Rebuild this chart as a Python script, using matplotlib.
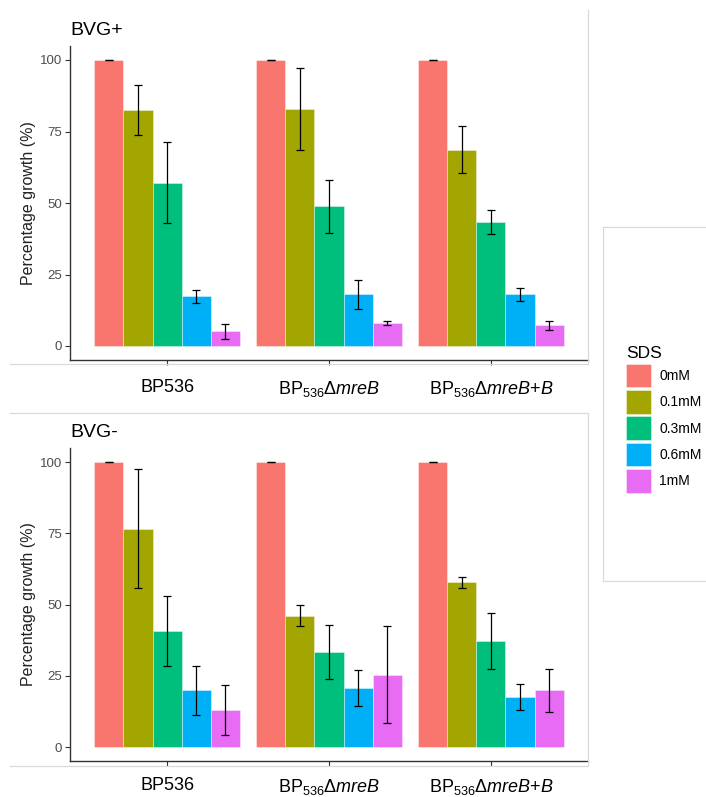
import matplotlib
matplotlib.use("Agg")
import matplotlib.pyplot as plt
import numpy as np
from matplotlib.lines import Line2D
from matplotlib.patches import Patch

plt.rcParams["font.family"] = ["Liberation Sans", "DejaVu Sans"]
plt.rcParams["mathtext.fontset"] = "custom"
plt.rcParams["mathtext.rm"] = "Liberation Sans"
plt.rcParams["mathtext.it"] = "Liberation Sans:italic"

strains = ["BP536", r"BP$_{536}$$\mathit{ΔmreB}$", r"BP$_{536}$$\mathit{ΔmreB}$$\mathit{{+}B}$"]
sds_levels = ["0mM", "0.1mM", "0.3mM", "0.6mM", "1mM"]
colors = ["#F8766D", "#A3A500", "#00BF7D", "#00B0F6", "#E76BF3"]

# rows = strain, cols = SDS level
bvg_plus_mean = [
    [100, 82.5, 57.1, 17.4, 5.2],
    [100, 82.9, 48.8, 18.1, 8.0],
    [100, 68.6, 43.5, 18.1, 7.2],
]
bvg_plus_err = [
    [0, 8.8, 14.2, 2.3, 2.6],
    [0, 14.3, 9.4, 5.0, 0.7],
    [0, 8.2, 4.2, 2.3, 1.5],
]
bvg_minus_mean = [
    [100, 76.6, 40.7, 19.9, 12.9],
    [100, 46.1, 33.4, 20.8, 25.3],
    [100, 57.8, 37.1, 17.5, 19.9],
]
bvg_minus_err = [
    [0, 20.8, 12.2, 8.5, 8.8],
    [0, 3.7, 9.6, 6.4, 17.0],
    [0, 2.0, 9.8, 4.6, 7.5],
]

W, H = 706, 797
fig = plt.figure(figsize=(W / 100, H / 100), dpi=100)


def draw_panel(ax, means, errs, title, xpad):
    means = np.array(means)
    errs = np.array(errs)
    x = np.arange(1, len(strains) + 1)
    bw = 0.9 / len(sds_levels)
    for i, lvl in enumerate(sds_levels):
        xpos = x + (i - 2) * bw
        ax.bar(xpos, means[:, i], width=bw, color=colors[i],
               edgecolor=(1, 1, 1, 0.45), linewidth=0.6, label=lvl)
        ax.errorbar(xpos, means[:, i], yerr=errs[:, i], fmt="none",
                    ecolor="black", elinewidth=0.9, capsize=2.6, capthick=0.9)
    ax.set_xlim(0.4, 3.6)
    ax.set_ylim(-5, 105)
    ax.set_xticks(x)
    ax.set_xticklabels(strains, fontsize=13, color="black")
    ax.set_yticks([0, 25, 50, 75, 100])
    ax.tick_params(axis="y", labelsize=9.5, labelcolor="#4d4d4d", length=3.5,
                   width=0.8, color="#333333", pad=2)
    ax.tick_params(axis="x", length=3.5, width=0.8, color="#333333", pad=xpad)
    ax.set_ylabel("Percentage growth (%)", fontsize=11.5, color="#222222", labelpad=3)
    ax.set_title(title, loc="left", fontsize=14, pad=8)
    for side in ["top", "right"]:
        ax.spines[side].set_visible(False)
    for side in ["left", "bottom"]:
        ax.spines[side].set_color("#333333")
        ax.spines[side].set_linewidth(1.0)


ax1 = fig.add_axes([70 / W, 1 - 360.3 / H, 518 / W, 314.6 / H])
draw_panel(ax1, bvg_plus_mean, bvg_plus_err, "BVG+", 10)
ax2 = fig.add_axes([70 / W, 1 - 761.3 / H, 518 / W, 313.5 / H])
draw_panel(ax2, bvg_minus_mean, bvg_minus_err, "BVG-", 8)


def fig_line(xs, ys):
    fig.add_artist(Line2D([v / W for v in xs], [1 - v / H for v in ys],
                          color="#d9d9d9", linewidth=0.9))


# light borders of the pasted panels
fig_line([10, 588, 588], [364, 364, 10])
fig_line([10, 588, 588, 10], [413, 413, 766, 766])
fig_line([706, 603, 603, 706], [227, 227, 581, 581])

handles = [Patch(facecolor=c, edgecolor=(1, 1, 1, 0.5), linewidth=0.6) for c in colors]
leg = fig.legend(handles, sds_levels, title="SDS", loc="upper left",
                 bbox_to_anchor=(626 / W, 1 - 346 / H), frameon=False,
                 fontsize=10, title_fontsize=12.5, handlelength=1.8,
                 handleheight=2.25, labelspacing=0.19, handletextpad=0.6,
                 borderpad=0, borderaxespad=0)
leg._legend_box.align = "left"

fig.savefig("out.png", dpi=100)
